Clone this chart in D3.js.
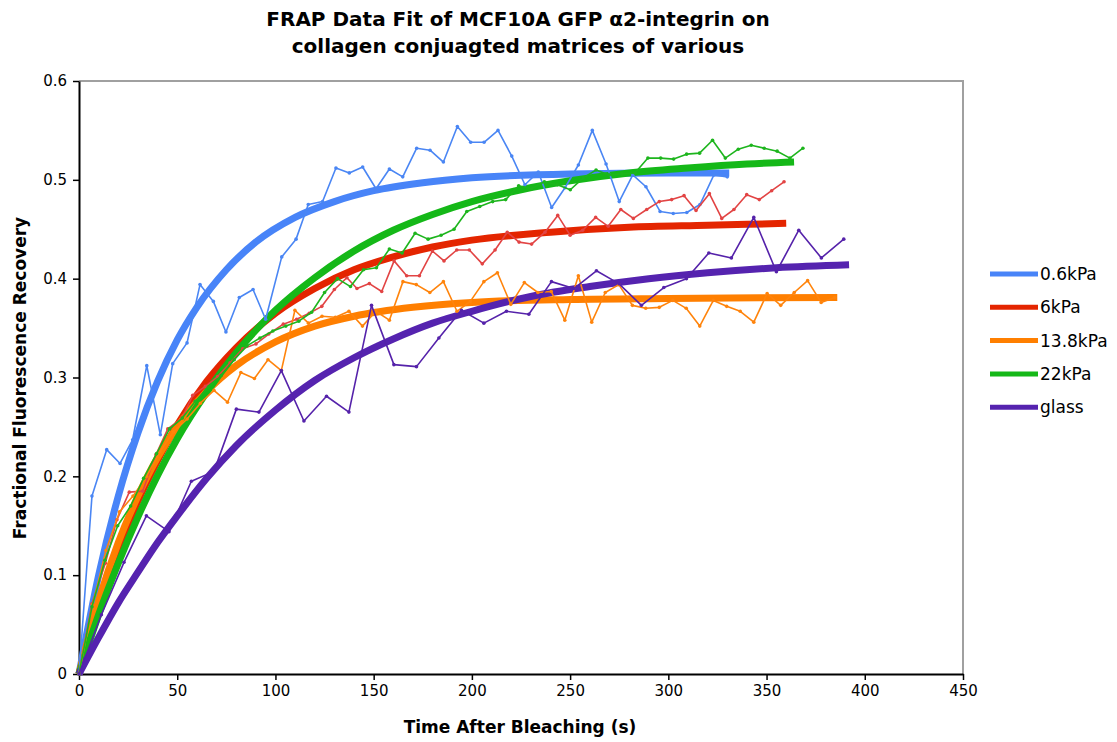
<!DOCTYPE html>
<html>
<head>
<meta charset="utf-8">
<script src="https://cdn.jsdelivr.net/npm/d3@7"></script>
<style>
  body { margin: 0; background: #fff; }
  text { font-family: "DejaVu Sans", Verdana, sans-serif; }
</style>
</head>
<body>
<svg id="svg" width="1117" height="742"></svg>
<script>
const WIDTH = 1117, HEIGHT = 742;
const plotL = 79, plotR = 963, plotT = 81, plotB = 674;

// raw FRAP traces (time s, fractional recovery)
const blueT = [0,6.6,14.1,20.9,27.3,34.5,41.4,47.7,55,61.6,68.4,74.8,81.6,88.6,95,103.2,110.5,116.7,124,130.8,137.6,144.4,151.2,158,164.8,171.9,178.7,185.5,192.6,199.4,206.2,213.3,220.3,227,233.8,240.6,247.4,254.2,261.3,268.3,275,281.9,288.6,295.8,302.5,309.4,316.1,323.2,330];
const blueV = [0,0.180,0.227,0.213,0.237,0.312,0.242,0.314,0.335,0.394,0.377,0.346,0.381,0.389,0.359,0.422,0.440,0.475,0.478,0.512,0.507,0.513,0.491,0.511,0.503,0.532,0.530,0.518,0.554,0.538,0.538,0.550,0.524,0.495,0.508,0.472,0.492,0.515,0.550,0.516,0.478,0.505,0.493,0.468,0.466,0.467,0.475,0.505,0.503];

const redT = [0,6.6,13.4,19.3,25.6,32.4,39.2,45.2,52.4,57.9,64.3,70.6,76.9,83.3,90.1,96.6,104,110.8,117.2,123.6,130,136.4,141.5,147.8,154.1,160.4,166.8,173.3,179.9,185.8,192.3,198.7,205.3,211.8,218,224,230.4,237.2,243.7,250,256.4,263,269.4,275.8,282.2,289,295.4,301.7,308,314.1,320.9,327.2,333.4,339.9,346.3,352.6,358.9];
const redV = [0,0.071,0.112,0.156,0.184,0.185,0.222,0.248,0.259,0.282,0.291,0.301,0.315,0.329,0.334,0.344,0.354,0.359,0.365,0.372,0.389,0.401,0.390,0.395,0.387,0.418,0.403,0.403,0.428,0.418,0.429,0.429,0.415,0.429,0.447,0.437,0.435,0.447,0.464,0.444,0.449,0.462,0.453,0.470,0.461,0.470,0.478,0.480,0.484,0.469,0.486,0.461,0.470,0.485,0.480,0.489,0.498];

const orangeT = [0,6.9,13.7,20.6,27.5,34.4,41.2,48.1,55,61.8,68.7,75.6,82.4,89.3,96.2,103,109.9,116.8,123.7,130.5,137.4,144.3,151.1,158,164.9,171.7,178.6,185.5,192.4,199.2,206.1,213,219.8,226.7,233.6,240.4,247.3,254.2,261,267.9,274.8,281.7,288.5,295.4,302.3,309.1,316,322.9,329.7,336.6,343.5,350.3,357.2,364.1,370.9,377.8,384.7];
const orangeV = [0,0.070,0.125,0.164,0.180,0.200,0.225,0.245,0.258,0.274,0.287,0.275,0.305,0.299,0.318,0.307,0.368,0.355,0.362,0.361,0.367,0.352,0.367,0.358,0.397,0.394,0.386,0.397,0.367,0.377,0.397,0.406,0.374,0.396,0.386,0.387,0.358,0.403,0.356,0.386,0.394,0.373,0.370,0.371,0.378,0.370,0.352,0.378,0.372,0.367,0.356,0.385,0.373,0.386,0.398,0.376,0.381];

const greenT = [0,6.6,13.2,19.7,26.3,32.9,39.5,46.1,52.6,59.2,65.8,72.4,79,85.5,92.1,98.7,105.3,111.9,118.4,125,131.6,138.2,144.8,151.4,158,164.5,171.1,177.7,184.3,190.9,197.4,204,210.6,217.2,223.8,230.3,236.9,243.5,250.1,256.7,263.2,269.8,276.4,283,289.6,296.1,302.7,309.3,315.9,322.5,329,335.6,342.2,348.8,355.4,361.9,368.5];
const greenV = [0,0.068,0.115,0.150,0.170,0.198,0.223,0.248,0.259,0.276,0.290,0.302,0.318,0.332,0.340,0.347,0.352,0.357,0.366,0.386,0.400,0.392,0.409,0.411,0.430,0.426,0.446,0.440,0.444,0.450,0.468,0.473,0.478,0.480,0.494,0.491,0.498,0.495,0.490,0.502,0.510,0.505,0.506,0.507,0.522,0.522,0.521,0.526,0.527,0.540,0.522,0.531,0.535,0.532,0.529,0.522,0.532];

const glassT = [0,11.4,22.9,34.3,45.8,57.2,68.7,80.1,91.6,103,114.5,126,137.4,148.9,160.3,171.8,183.2,194.7,206.1,217.6,229,240.5,251.9,263.4,274.8,286.3,297.7,309.2,320.6,332.1,343.5,355,366.4,377.9,389.3];
const glassV = [0,0.060,0.113,0.160,0.144,0.195,0.205,0.268,0.265,0.307,0.256,0.281,0.265,0.373,0.313,0.311,0.340,0.368,0.355,0.367,0.364,0.397,0.390,0.408,0.395,0.373,0.391,0.400,0.426,0.421,0.462,0.407,0.449,0.421,0.440];

// fitted recovery curves
const fitBlueT = [0,10,20,30,40,50,60,75,90,110,130,150,175,200,250,300,331];
const fitBlueV = [0,0.100,0.180,0.244,0.296,0.338,0.371,0.409,0.437,0.462,0.478,0.489,0.497,0.502,0.506,0.507,0.507];
const fitRedT = [0,10,20,30,40,50,65,80,100,120,140,160,180,200,240,280,320,360];
const fitRedV = [0,0.068,0.125,0.175,0.216,0.252,0.296,0.330,0.365,0.390,0.409,0.422,0.432,0.439,0.447,0.452,0.454,0.456];
const fitOrangeT = [0,10,20,30,40,50,65,80,100,120,140,170,200,250,300,386];
const fitOrangeV = [0,0.074,0.133,0.180,0.219,0.250,0.286,0.312,0.336,0.352,0.362,0.371,0.376,0.379,0.380,0.381];
const fitGreenT = [0,10,20,30,40,50,65,80,100,120,140,160,180,200,225,250,280,310,340,364];
const fitGreenV = [0,0.060,0.112,0.159,0.201,0.238,0.285,0.325,0.368,0.401,0.428,0.449,0.465,0.478,0.490,0.499,0.507,0.512,0.516,0.518];
const fitGlassT = [0,10,20,30,40,50,65,80,100,120,140,160,180,200,230,260,290,320,355,392];
const fitGlassV = [0,0.037,0.072,0.103,0.133,0.160,0.198,0.231,0.267,0.297,0.320,0.339,0.355,0.367,0.382,0.392,0.400,0.406,0.411,0.414];

const names = ['0.6kPa','6kPa','13.8kPa','22kPa','glass'];
const fitColors = ['#4884f8','#e42500','#ff7f00','#15b818','#5523af'];
const rawColors = ['#4a86f4','#e24444','#ff840c','#1db51d','#5522aa'];
const xTicks = [0,50,100,150,200,250,300,350,400,450];
const yTicks = [0,0.1,0.2,0.3,0.4,0.5,0.6];

const raws = [[blueT,blueV],[redT,redV],[orangeT,orangeV],[greenT,greenV],[glassT,glassV]];
const fits = [[fitBlueT,fitBlueV],[fitRedT,fitRedV],[fitOrangeT,fitOrangeV],[fitGreenT,fitGreenV],[fitGlassT,fitGlassV]];

const svg = d3.select('#svg');
const x = d3.scaleLinear().domain([0,450]).range([plotL,plotR]);
const y = d3.scaleLinear().domain([0,0.6]).range([plotB,plotT]);

// plot frame: grey top/right
svg.append('path')
  .attr('d', 'M'+plotL+','+plotT+'H'+plotR+'V'+plotB)
  .attr('fill','none').attr('stroke','#a0a0a0').attr('stroke-width',2);

const xAxis = svg.append('g').attr('transform','translate(0,'+plotB+')')
  .call(d3.axisBottom(x).tickValues(xTicks).tickSize(6).tickSizeOuter(0).tickPadding(5));
const yAxis = svg.append('g').attr('transform','translate('+plotL+',0)')
  .call(d3.axisLeft(y).tickValues(yTicks).tickSize(6).tickSizeOuter(0).tickPadding(6)
    .tickFormat(d => d === 0 ? '0' : d3.format('.1f')(d)));
[xAxis,yAxis].forEach(a => {
  a.select('.domain').attr('stroke','#000').attr('stroke-width',2);
  a.selectAll('.tick line').attr('stroke','#000').attr('stroke-width',1.5);
  a.selectAll('.tick text').attr('fill','#000').style('font-size','15px')
    .style('font-family','"DejaVu Sans", Verdana, sans-serif');
});

const line = d3.line().x(d => x(d[0])).y(d => y(d[1]));
const lineSmooth = d3.line().x(d => x(d[0])).y(d => y(d[1])).curve(d3.curveMonotoneX);

// thick fit curves
fits.forEach((f,i) => {
  const pts = f[0].map((t,j) => [t, f[1][j]]);
  svg.append('path').attr('d', lineSmooth(pts))
    .attr('fill','none').attr('stroke',fitColors[i]).attr('stroke-width',7)
    .attr('stroke-linejoin','round');
});

// raw traces with small markers
raws.forEach((r,i) => {
  const pts = r[0].map((t,j) => [t, r[1][j]]);
  svg.append('path').attr('d', line(pts))
    .attr('fill','none').attr('stroke',rawColors[i]).attr('stroke-width',1.6)
    .attr('stroke-linejoin','round');
  svg.append('g').selectAll('circle').data(pts).join('circle')
    .attr('cx', d => x(d[0])).attr('cy', d => y(d[1])).attr('r',1.8)
    .attr('fill',rawColors[i]);
});

// legend
const leg = svg.append('g');
names.forEach((n,i) => {
  const ly = 274 + i*33.3;
  leg.append('line').attr('x1',990).attr('x2',1038).attr('y1',ly).attr('y2',ly)
    .attr('stroke',fitColors[i]).attr('stroke-width',5);
  leg.append('text').attr('x',1040).attr('y',ly).attr('dy','0.35em')
    .style('font-size','17px').text(n);
});

// titles
svg.append('text').attr('x',518).attr('y',26).attr('text-anchor','middle')
  .style('font-size','20px').style('font-weight','bold')
  .text('FRAP Data Fit of MCF10A GFP α2-integrin on');
svg.append('text').attr('x',518).attr('y',53).attr('text-anchor','middle')
  .style('font-size','20px').style('font-weight','bold')
  .text('collagen conjuagted matrices of various');
svg.append('text').attr('x',520).attr('y',733).attr('text-anchor','middle')
  .style('font-size','17px').style('font-weight','bold')
  .text('Time After Bleaching (s)');
svg.append('text').attr('transform','translate(26,378) rotate(-90)').attr('text-anchor','middle')
  .style('font-size','17px').style('font-weight','bold')
  .text('Fractional Fluorescence Recovery');
</script>
</body>
</html>
